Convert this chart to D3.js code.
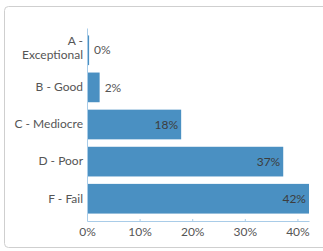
<!DOCTYPE html>
<html>
<head>
<meta charset="utf-8">
<script src="https://cdn.jsdelivr.net/npm/d3@7.9.0/dist/d3.min.js"></script>
<style>
  html, body { margin: 0; padding: 0; background: #fff; }
  svg text { font-family: Lato, "Open Sans", sans-serif; font-size: 12px; }
</style>
</head>
<body>
<svg id="chart" width="323" height="251"></svg>
<script>
// grades and share of schools per grade
const categories = ['A - Exceptional', 'B - Good', 'C - Mediocre', 'D - Poor', 'F - Fail'];
const values = [0.004, 0.024, 0.179, 0.373, 0.422];
const tickValues = [0, 0.1, 0.2, 0.3, 0.4];

const W = 323, H = 251;
const margin = { top: 28, right: 14, bottom: 30, left: 87 };

const svg = d3.select('#chart');

// card frame, wider than the window so the right edge is cut off
svg.append('rect')
  .attr('x', 4.5).attr('y', 6.5)
  .attr('width', 340).attr('height', 241)
  .attr('rx', 4)
  .attr('fill', '#fff')
  .attr('stroke', '#cfcfcf');

const x = d3.scaleLinear()
  .domain([0, d3.max(values)])
  .range([margin.left, W - margin.right]);

const y = d3.scaleBand()
  .domain(categories)
  .range([margin.top, H - margin.bottom])
  .padding(0.2);

const data = categories.map((c, i) => ({ cat: c, v: values[i] }));
const fmt = d3.format('.0%');
const inside = d => x(d.v) - x(0) > 40;

svg.append('g').selectAll('rect')
  .data(data)
  .join('rect')
  .attr('x', x(0))
  .attr('y', d => y(d.cat))
  .attr('width', d => x(d.v) - x(0))
  .attr('height', y.bandwidth())
  .attr('fill', '#4a90c2');

// value labels: inside the bar if it is wide enough, otherwise just right of it
svg.append('g').selectAll('text')
  .data(data)
  .join('text')
  .attr('x', d => inside(d) ? x(d.v) - 3 : x(d.v) + 5)
  .attr('y', d => y(d.cat) + y.bandwidth() / 2)
  .attr('dy', '0.35em')
  .attr('text-anchor', d => inside(d) ? 'end' : 'start')
  .attr('fill', d => inside(d) ? '#3d3d3d' : '#555')
  .text(d => fmt(d.v));

// y axis
const yAxis = svg.append('g')
  .attr('transform', `translate(${margin.left},0)`)
  .call(d3.axisLeft(y).tickSize(0).tickPadding(4))
  .attr('font-family', null).attr('font-size', null);
yAxis.select('.domain').attr('stroke', '#a9cce8');
yAxis.selectAll('.tick text')
  .attr('fill', '#555')
  .each(function(d) {
    const t = d3.select(this);
    const parts = d.split(' - ');
    if (t.node().getComputedTextLength() > 70) {
      t.attr('dy', null).text(null);
      t.append('tspan').attr('x', -4).attr('y', -5.5).text(parts[0] + ' -');
      t.append('tspan').attr('x', -4).attr('y', 9).text(parts[1]);
    }
  });

// x axis
const xAxis = svg.append('g')
  .attr('transform', `translate(0,${H - margin.bottom})`)
  .call(d3.axisBottom(x).tickValues(tickValues).tickFormat(fmt).tickSizeInner(-2).tickSizeOuter(0).tickPadding(6))
  .attr('font-family', null).attr('font-size', null);
xAxis.select('.domain').attr('stroke', '#a9cce8');
xAxis.selectAll('.tick line').attr('stroke', '#a9cce8');
xAxis.selectAll('.tick text').attr('fill', '#555');
</script>
</body>
</html>
